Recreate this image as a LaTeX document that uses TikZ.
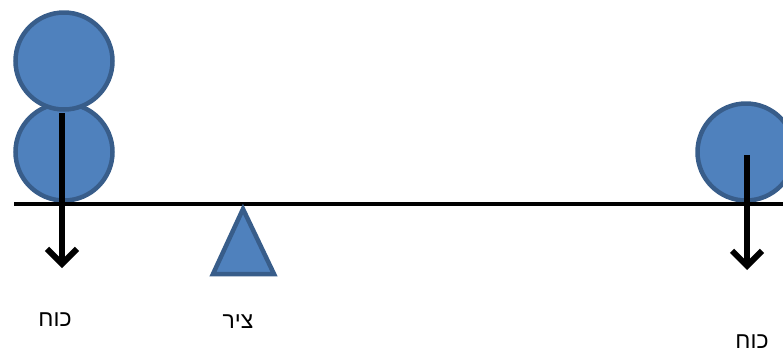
\documentclass[tikz,border=0pt]{standalone}
\usepackage{fontspec}
\usetikzlibrary{arrows.meta}
\TeXXeTstate=1
\newfontfamily\hebfont[Script=Hebrew]{Liberation Sans}
\definecolor{ballfill}{HTML}{4F81BD}
\definecolor{ballline}{HTML}{385D8A}
\tikzset{
  ball/.style={circle, fill=ballfill, draw=ballline, line width=4.5pt, minimum size=97pt, inner sep=0pt},
  force/.style={line width=6pt, -{Straight Barb[length=15pt, width=30pt, line width=6pt]}},
  lbl/.style={font=\hebfont\fontsize{23}{26}\selectfont, inner sep=0pt},
}
\begin{document}
\begin{tikzpicture}[x=1pt, y=-1pt]
\useasboundingbox (0,0) rectangle (783,354);
\node[ball] (b1) at (64,152) {};
\node[ball] (b2) at (64,61) {};
\node[ball] (b3) at (746,152) {};
\coordinate (lstart) at (14,204);
\coordinate (lend) at (783,204);
\draw[line width=3.8pt] (lstart) -- (lend);
\fill[ballfill, draw=ballline, line width=4.5pt, line join=miter] (243,209) -- (274,274) -- (213,274) -- cycle;
\coordinate (f1s) at (62,113);
\coordinate (f1e) at (62,268);
\coordinate (f2s) at (747,155);
\coordinate (f2e) at (747,270);
\draw[force] (f1s) -- (f1e);
\draw[force] (f2s) -- (f2e);
\node[lbl] (t1) at (55,320) {\beginR כוח\endR};
\node[lbl] (t2) at (238,322) {\beginR ציר\endR};
\node[lbl] (t3) at (752,342) {\beginR כוח\endR};
\end{tikzpicture}
\end{document}
